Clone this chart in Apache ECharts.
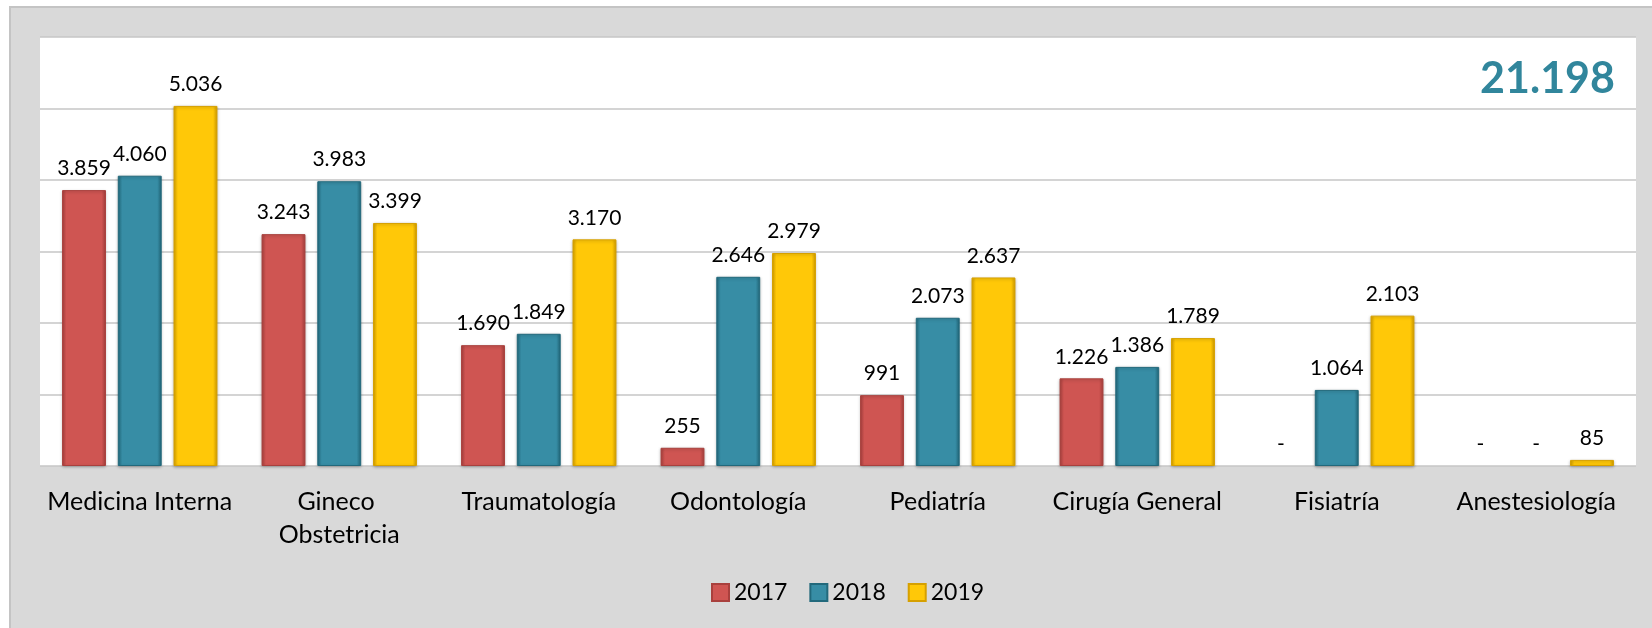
<!DOCTYPE html>
<html>
<head>
<meta charset="utf-8">
<script src="https://cdn.jsdelivr.net/npm/echarts@6/dist/echarts.min.js"></script>
<style>
  html, body { margin: 0; padding: 0; background: #fff; }
  #chart { width: 1652px; height: 628px; }
</style>
</head>
<body>
<div id="chart"></div>
<script>
const categories = ['Medicina Interna', 'Gineco Obstetricia', 'Traumatología', 'Odontología',
  'Pediatría', 'Cirugía General', 'Fisiatría', 'Anestesiología'];
const years = ['2017', '2018', '2019'];
const values2017 = [3859, 3243, 1690, 255, 991, 1226, 0, 0];
const values2018 = [4060, 3983, 1849, 2646, 2073, 1386, 1064, 0];
const values2019 = [5036, 3399, 3170, 2979, 2637, 1789, 2103, 85];

const FONT = 'Lato';

function fmt(n) {
  if (!n) return '-';
  return String(n).replace(/\B(?=(\d{3})+(?!\d))/g, '.');
}

// bar fill: darker edges, flat middle (rough take on the bevel look)
function bevel(dark, base) {
  return new echarts.graphic.LinearGradient(0, 0, 1, 0, [
    { offset: 0, color: dark },
    { offset: 0.1, color: base },
    { offset: 0.9, color: base },
    { offset: 1, color: dark }
  ]);
}

const palette = [
  { base: '#CF5552', dark: '#A9403D' },
  { base: '#378DA5', dark: '#22697C' },
  { base: '#FFC808', dark: '#D6A000' }
];

const total2019 = values2019.reduce((a, b) => a + b, 0);

let chart = echarts.init(document.getElementById('chart'));

function makeSeries(name, data, i) {
  return {
    name: name,
    type: 'bar',
    // zero values: no visible bar, only the "-" label
    data: data.map(v => v ? v : {
      value: 0,
      itemStyle: { color: 'rgba(0,0,0,0)', borderWidth: 0, shadowBlur: 0 }
    }),
    barWidth: '22%',
    barGap: '27%',
    itemStyle: {
      color: bevel(palette[i].dark, palette[i].base),
      borderColor: palette[i].dark,
      borderWidth: 1,
      shadowBlur: 3,
      shadowColor: 'rgba(0,0,0,0.25)',
      shadowOffsetY: 1
    },
    label: {
      show: true,
      position: 'top',
      distance: 11,
      fontFamily: FONT,
      fontSize: 21,
      color: '#000',
      formatter: p => fmt(p.value)
    }
  };
}

let option = {
  animation: false,
  backgroundColor: '#fff',
  graphic: [
    {
      type: 'rect',
      z: -10,
      shape: { x: 10, y: 7, width: 1660, height: 640 },
      style: { fill: '#D9D9D9', stroke: '#C4C4C4', lineWidth: 2 }
    },
    {
      type: 'text',
      right: 37,
      top: 58,
      style: {
        text: fmt(total2019),
        fontFamily: FONT,
        fontWeight: 'bold',
        fontSize: 43,
        fill: '#31869C'
      }
    }
  ],
  grid: {
    left: 40,
    right: 16,
    top: 37,
    bottom: 162,
    show: true,
    backgroundColor: '#fff',
    borderWidth: 0
  },
  legend: {
    data: years,
    left: 706,
    top: 576,
    itemWidth: 17,
    itemHeight: 17,
    itemGap: 22,
    icon: 'rect',
    textStyle: { fontFamily: FONT, fontSize: 23, color: '#000' }
  },
  xAxis: {
    type: 'category',
    data: categories,
    axisLine: { show: false },
    axisTick: { show: false },
    axisLabel: {
      interval: 0,
      margin: 19,
      fontFamily: FONT,
      fontSize: 25,
      lineHeight: 33,
      color: '#000',
      width: 192,
      overflow: 'break'
    }
  },
  yAxis: {
    type: 'value',
    min: 0,
    max: 6000,
    interval: 1000,
    axisLabel: { show: false },
    axisLine: { show: false },
    axisTick: { show: false },
    splitLine: { lineStyle: { color: '#C6C6C6', width: 1.5 } }
  },
  series: [
    makeSeries(years[0], values2017, 0),
    makeSeries(years[1], values2018, 1),
    makeSeries(years[2], values2019, 2)
  ]
};

chart.setOption(option);
</script>
</body>
</html>
